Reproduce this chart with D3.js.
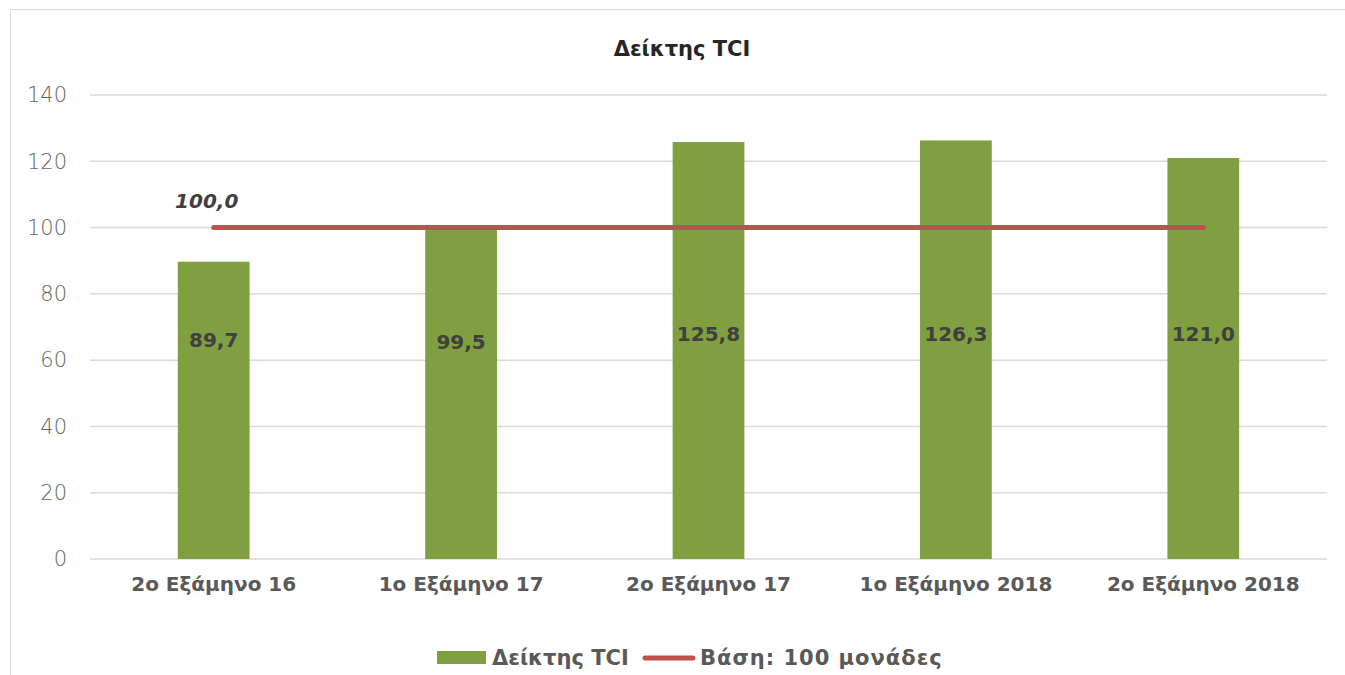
<!DOCTYPE html>
<html><head><meta charset="utf-8">
<script src="https://cdn.jsdelivr.net/npm/d3@7"></script>
<style>
html,body{margin:0;padding:0;background:#fff;}
svg{display:block;}
text{font-family:"DejaVu Sans",sans-serif;}
</style></head>
<body><svg id="c" width="1345" height="675"></svg>
<script>
const categories = ["2ο Εξάμηνο 16","1ο Εξάμηνο 17","2ο Εξάμηνο 17","1ο Εξάμηνο 2018","2ο Εξάμηνο 2018"];
const tciValues = [89.7, 99.5, 125.8, 126.3, 121.0];
const baseValues = [100, 100, 100, 100, 100];
const yTicks = [0, 20, 40, 60, 80, 100, 120, 140];
const labelAnchor = [66, 65.5, 68, 68, 68];
const title = "Δείκτης TCI";
const seriesNames = ["Δείκτης TCI", "Βάση: 100 μονάδες"];

const svg = d3.select("#c");
const W = 1345, H = 675;
const m = {left: 90, right: 18, top: 95, bottom: 116};

svg.append("rect").attr("x",10.5).attr("y",9.5).attr("width",W).attr("height",H)
  .attr("fill","#fff").attr("stroke","#d9d9d9").attr("stroke-width",1);

const x = d3.scaleBand().domain(categories).range([m.left, W - m.right]).paddingInner(0).paddingOuter(0);
const y = d3.scaleLinear().domain([0,140]).range([H - m.bottom, m.top]);
const fmt = v => d3.format(".1f")(v).replace(".", ",");

// gridlines
svg.append("g").selectAll("line").data(yTicks).join("line")
  .attr("x1", m.left).attr("x2", W - m.right)
  .attr("y1", d => y(d)).attr("y2", d => y(d))
  .attr("stroke","#d9d9d9").attr("stroke-width",1.5);

// y axis labels
const yAxis = d3.axisLeft(y).tickValues(yTicks).tickSize(0).tickPadding(23);
const ga = svg.append("g").attr("transform",`translate(${m.left},0)`).call(yAxis);
ga.select(".domain").remove();
ga.selectAll("text").attr("font-size",21).attr("fill","#666666").attr("font-family","DejaVu Sans, sans-serif").attr("font-weight",200);

// x axis labels
const xAxis = d3.axisBottom(x).tickSize(0).tickPadding(18);
const gx = svg.append("g").attr("transform",`translate(0,${y(0)})`).call(xAxis);
gx.select(".domain").remove();
gx.selectAll("text").attr("font-size",20).attr("font-weight",700).attr("fill","#595959").attr("font-family","DejaVu Sans, sans-serif");

// bars
const bw = x.bandwidth()*0.29;
svg.append("g").selectAll("rect").data(tciValues).join("rect")
  .attr("x",(d,i)=>x(categories[i]) + x.bandwidth()/2 - bw/2)
  .attr("width",bw)
  .attr("y",d=>y(d)).attr("height",d=>y(0)-y(d))
  .attr("fill","#809f41");

// bar labels
svg.append("g").selectAll("text").data(tciValues).join("text")
  .attr("x",(d,i)=>x(categories[i]) + x.bandwidth()/2)
  .attr("y",(d,i)=>y(labelAnchor[i]))
  .attr("text-anchor","middle").attr("dominant-baseline","central")
  .attr("font-size",20).attr("font-weight",700).attr("fill","#404040")
  .text(d=>fmt(d));

// base line
const line = d3.line().x((d,i)=>x(categories[i]) + x.bandwidth()/2).y(d=>y(d));
svg.append("path").datum(baseValues).attr("d",line)
  .attr("fill","none").attr("stroke","#c0504d").attr("stroke-width",5).attr("stroke-linecap","round");

// label of first base point
svg.append("text")
  .attr("x", x(categories[0]) + x.bandwidth()/2 - 7)
  .attr("y", y(baseValues[0]) - 20)
  .attr("text-anchor","middle")
  .attr("font-size",20).attr("font-weight",700).attr("font-style","italic").attr("fill","#404040")
  .text(fmt(baseValues[0]));

// title
svg.append("text").attr("x",682).attr("y",56).attr("text-anchor","middle")
  .attr("font-size",21).attr("font-weight",700).attr("fill","#262626").text(title);

// legend
const lg = svg.append("g").attr("transform","translate(437,658)");
lg.append("rect").attr("x",0).attr("y",-7).attr("width",49).attr("height",13).attr("fill","#809f41");
lg.append("text").attr("x",55).attr("y",0).attr("dominant-baseline","central")
  .attr("font-size",21).attr("font-weight",700).attr("fill","#595959").text(seriesNames[0]);
lg.append("line").attr("x1",208).attr("x2",256).attr("y1",0).attr("y2",0)
  .attr("stroke","#c0504d").attr("stroke-width",5).attr("stroke-linecap","round");
lg.append("text").attr("x",263).attr("y",0).attr("dominant-baseline","central")
  .attr("font-size",21).attr("font-weight",700).attr("letter-spacing",1).attr("fill","#595959").text(seriesNames[1]);
</script></body></html>
